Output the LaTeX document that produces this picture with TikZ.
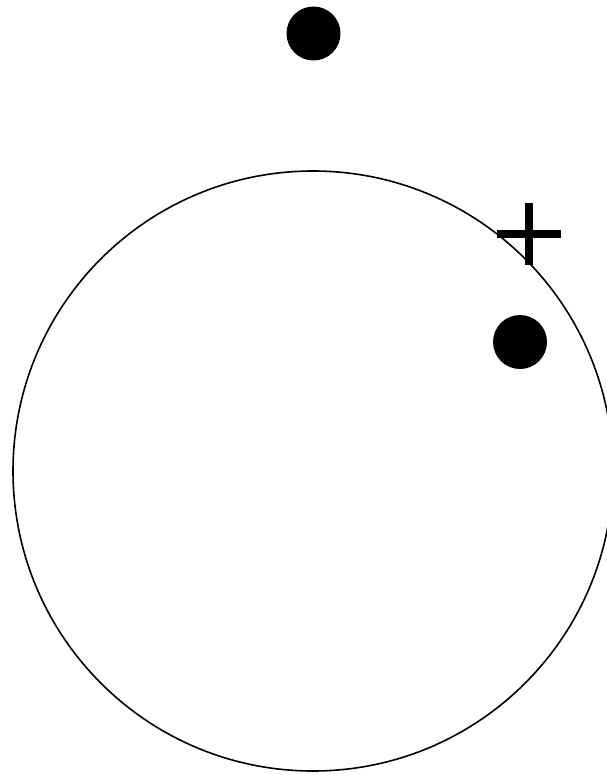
\documentclass[tikz,border=0pt]{standalone}
\begin{document}
\begin{tikzpicture}[x=1pt,y=-1pt,
  dot/.style={circle,fill=black,inner sep=0pt,minimum size=54pt},
  ring/.style={circle,draw=black,line width=1.6pt,inner sep=0pt,minimum size=600pt}]
\useasboundingbox (0,0) rectangle (606,775);
\node[ring] (c) at (313,471) {};
\node[dot] (d1) at (313.5,33.5) {};
\node[dot] (d2) at (520,342) {};
\coordinate (p) at (529,234);
\draw[line width=8pt] ([xshift=-32pt]p) -- ([xshift=32pt]p);
\draw[line width=8pt] ([yshift=-31pt]p) -- ([yshift=31pt]p);
\end{tikzpicture}
\end{document}
